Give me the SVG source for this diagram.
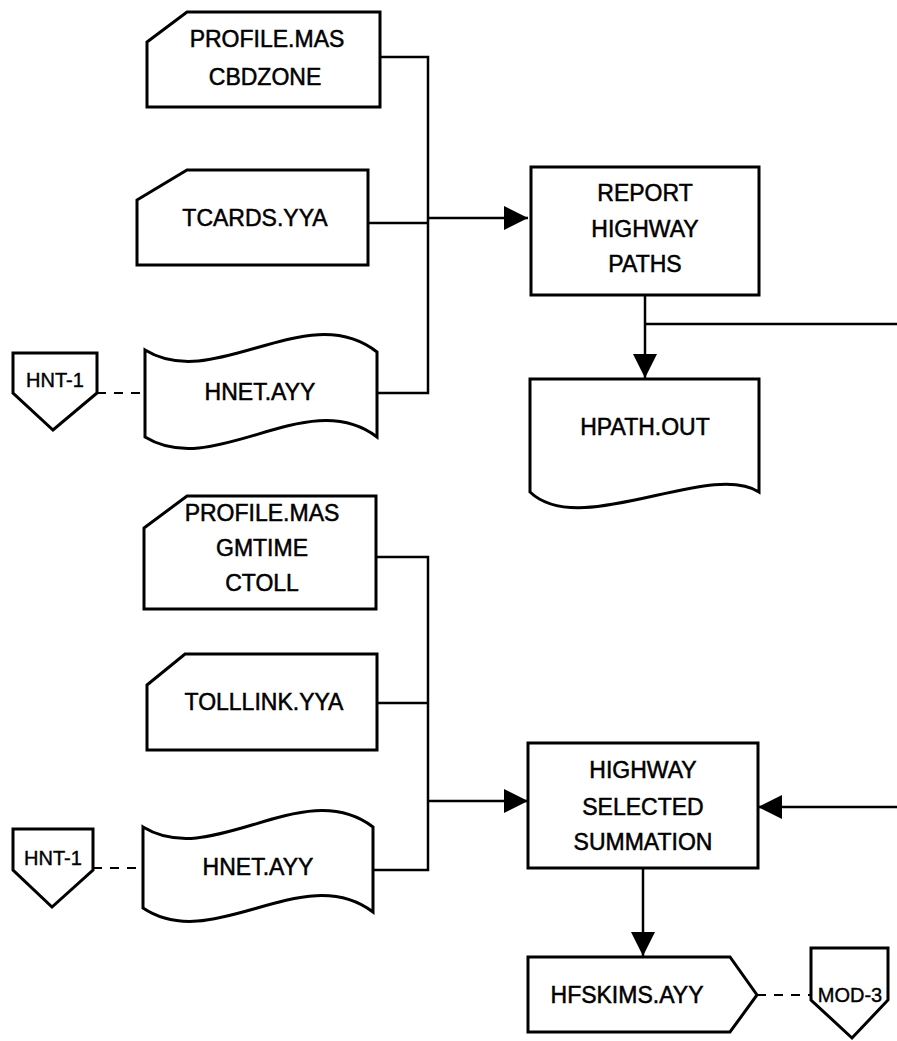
<svg xmlns="http://www.w3.org/2000/svg" width="897" height="1041" viewBox="0 0 897 1041">
<style>
.shape{fill:#fff;stroke:#000;stroke-width:3;stroke-linejoin:miter}
.line{fill:none;stroke:#000;stroke-width:2.5}
.dash{fill:none;stroke:#000;stroke-width:1.8;stroke-dasharray:9 8}
text{font-family:"Liberation Sans",Arial,sans-serif;font-size:23px;fill:#000;stroke:#000;stroke-width:0.5;text-anchor:middle;dominant-baseline:central}
.small{font-size:20px;stroke-width:0.4}
</style>
<defs>
<marker id="ah" markerUnits="userSpaceOnUse" markerWidth="26" markerHeight="26" refX="24" refY="12" orient="auto">
<path d="M0,0 L24,12 L0,24 Z" fill="#000"/>
</marker>
</defs>
<rect width="897" height="1041" fill="#fff"/>
<g id="connectors">
<path class="line" d="M380,57 H428 V393 H377"/>
<path class="line" d="M368,223 H428"/>
<path class="line" d="M428,218 H528" marker-end="url(#ah)"/>
<path class="line" d="M645,295 V378" marker-end="url(#ah)"/>
<path class="line" d="M645,324 H897"/>
<path class="line" d="M376,557 H428 V870 H373"/>
<path class="line" d="M377,703 H428"/>
<path class="line" d="M428,801 H528" marker-end="url(#ah)"/>
<path class="line" d="M897,807 H758" marker-end="url(#ah)"/>
<path class="line" d="M643,868 V956" marker-end="url(#ah)"/>
<path class="dash" d="M97,393 H145"/>
<path class="dash" d="M93,868 H143"/>
<path class="dash" d="M757,995 H811"/>
</g>
<g id="profile1">
<path class="shape" d="M147,42 L187,12 H380 V107 H147 Z"/>
<text x="267" y="39">PROFILE.MAS</text>
<text x="265" y="77">CBDZONE</text>
</g>
<g id="tcards">
<path class="shape" d="M137,200 L187,170 H368 V265 H137 Z"/>
<text x="255" y="218">TCARDS.YYA</text>
</g>
<g id="hnet1">
<path class="shape" d="M145,350 C215,393 307,297 377,352 V437 C307,384 215,480 145,437 Z"/>
<text x="260" y="392">HNET.AYY</text>
</g>
<g id="hnt1a">
<path class="shape" d="M13,353 H97 V393 L53,430 L13,393 Z"/>
<text class="small" x="55" y="380">HNT-1</text>
</g>
<g id="report">
<rect class="shape" x="531" y="167" width="228" height="128"/>
<text x="645" y="193">REPORT</text>
<text x="645" y="229">HIGHWAY</text>
<text x="645" y="264">PATHS</text>
</g>
<g id="hpath">
<path class="shape" d="M530,379 H759 V492 C710,460 580,540 530,492 Z"/>
<text x="645" y="427">HPATH.OUT</text>
</g>
<g id="profile2">
<path class="shape" d="M144,528 L187,496 H376 V609 H144 Z"/>
<text x="262" y="513">PROFILE.MAS</text>
<text x="262" y="548">GMTIME</text>
<text x="262" y="583">CTOLL</text>
</g>
<g id="tolllink">
<path class="shape" d="M147,685 L185,654 H377 V750 H147 Z"/>
<text x="264" y="702">TOLLLINK.YYA</text>
</g>
<g id="hnet2">
<path class="shape" d="M143,827 C213,870 303,774 373,827 V912 C303,859 213,955 143,908 Z"/>
<text x="258" y="867">HNET.AYY</text>
</g>
<g id="hnt1b">
<path class="shape" d="M13,829 H93 V870 L52,907 L13,870 Z"/>
<text class="small" x="53" y="858">HNT-1</text>
</g>
<g id="highway">
<rect class="shape" x="528" y="743" width="230" height="125"/>
<text x="643" y="770">HIGHWAY</text>
<text x="643" y="807">SELECTED</text>
<text x="643" y="842">SUMMATION</text>
</g>
<g id="hfskims">
<path class="shape" d="M528,957 H730 L757,995 L730,1032 H528 Z"/>
<text x="627" y="995">HFSKIMS.AYY</text>
</g>
<g id="mod3">
<path class="shape" d="M811,948 H888 V1000 L852,1038 L811,1000 Z"/>
<text class="small" x="850" y="995">MOD-3</text>
</g>
</svg>
